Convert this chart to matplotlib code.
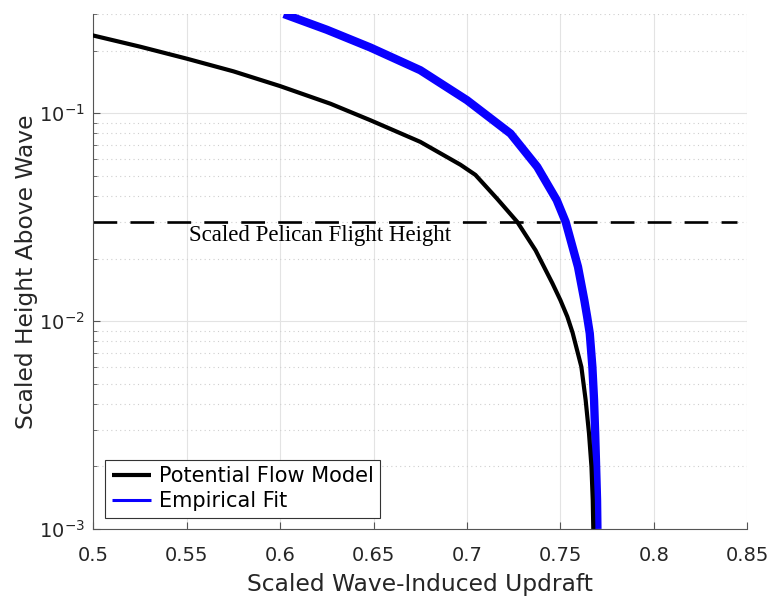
import matplotlib.pyplot as plt
from matplotlib.ticker import LogLocator, NullFormatter

# values
flow_x = [0.4995, 0.525, 0.550, 0.575, 0.600, 0.627, 0.6483, 0.675, 0.6965, 0.7045,
          0.7162, 0.7269, 0.7367, 0.7457, 0.7500, 0.7537, 0.7565, 0.7612, 0.7635,
          0.7653, 0.7666, 0.7673, 0.7676]
flow_y = [0.237, 0.209, 0.183, 0.159, 0.135, 0.111, 0.0925, 0.0728, 0.0565, 0.0505,
          0.0387, 0.030, 0.0219, 0.0152, 0.0126, 0.0105, 0.0088, 0.00603, 0.00417,
          0.00288, 0.0020, 0.00138, 0.001]

fit_x = [0.602, 0.625, 0.6483, 0.675, 0.700, 0.7233, 0.7376, 0.748, 0.7528, 0.7594,
         0.7628, 0.7643, 0.7657, 0.7671, 0.768, 0.7686, 0.7691, 0.7696, 0.7698]
fit_y = [0.300, 0.252, 0.207, 0.161, 0.1155, 0.0798, 0.0552, 0.0382, 0.030, 0.01824,
         0.0126, 0.0105, 0.00873, 0.00603, 0.00417, 0.00288, 0.0020, 0.00138, 0.001]

flight_height = 0.03
x_ticks = [0.5, 0.55, 0.6, 0.65, 0.7, 0.75, 0.8, 0.85]

txt = '#262626'
fig = plt.figure(figsize=(7.68, 5.97), dpi=100)
ax = fig.add_axes([0.1215, 0.114, 0.8515, 0.8625])

ax.plot(flow_x, flow_y, color='black', lw=3.0, label='Potential Flow Model',
        zorder=4, solid_capstyle='butt', solid_joinstyle='round')
ax.plot(fit_x, fit_y, color='#0a00ff', lw=6.0, label='Empirical Fit', zorder=3,
        solid_capstyle='butt', solid_joinstyle='round')
ax.axhline(flight_height, xmin=0, xmax=0.985, color='black', lw=1.9,
           dashes=(9, 5), zorder=2)
ax.text(0.5513, 0.0257, 'Scaled Pelican Flight Height', family='Liberation Serif',
        fontsize=16.5, va='center', ha='left', color='black')

ax.set_yscale('log')
ax.set_xlim(0.5, 0.85)
ax.set_ylim(1e-3, 0.3)
ax.set_xticks(x_ticks)
ax.set_xticklabels([f'{v:g}' for v in x_ticks])
ax.yaxis.set_major_locator(LogLocator(base=10, numticks=10))
ax.yaxis.set_minor_locator(LogLocator(base=10, subs=range(2, 10), numticks=20))
ax.yaxis.set_minor_formatter(NullFormatter())

ax.grid(True, which='major', color='#e3e3e3', lw=0.8)
ax.grid(True, which='minor', axis='y', color='#cfcfcf', lw=0.8, ls=(0, (1, 3)))
ax.set_axisbelow(True)

for s in ['top', 'right']:
    ax.spines[s].set_visible(False)
for s in ['left', 'bottom']:
    ax.spines[s].set_color('#555555')
    ax.spines[s].set_linewidth(0.8)
ax.tick_params(which='both', direction='in', colors='#555555', labelcolor=txt,
               labelsize=14)
ax.tick_params(which='major', length=5)
ax.tick_params(which='minor', length=3)
ax.tick_params(axis='x', pad=12)
ax.tick_params(axis='y', pad=6)

ax.set_xlabel('Scaled Wave-Induced Updraft', fontsize=16.8, color=txt, labelpad=6)
ax.set_ylabel('Scaled Height Above Wave', fontsize=16.8, color=txt, labelpad=1)

leg = ax.legend(loc='lower left', bbox_to_anchor=(0.018, 0.021), borderaxespad=0,
                fontsize=15, fancybox=False, framealpha=1, edgecolor='#333333',
                handlelength=1.9, handletextpad=0.35, borderpad=0.32,
                labelspacing=0.25)
leg.get_frame().set_linewidth(0.8)
leg_lines = leg.get_lines()
leg_lines[0].set_linewidth(3.0)
leg_lines[1].set_linewidth(2.2)
for t in leg.get_texts():
    t.set_color('black')

fig.savefig('out.png', dpi=100)
